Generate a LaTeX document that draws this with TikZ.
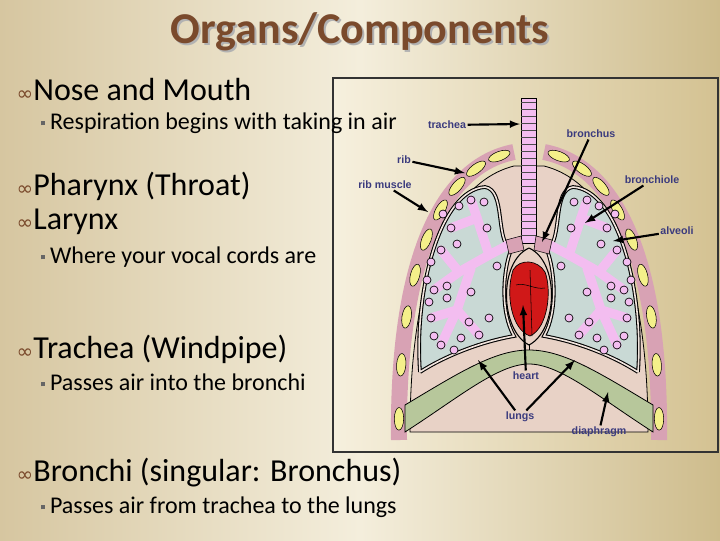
\documentclass[tikz,border=0pt]{standalone}
\usepackage{fontspec}
\setmainfont{Carlito}
\newfontfamily\labelfont{Liberation Sans}
\newfontfamily\symfont{DejaVu Sans}
\usetikzlibrary{positioning}
\definecolor{titlebrown}{HTML}{7A4A2C}
\definecolor{labelblue}{HTML}{3B3B7E}
\definecolor{ribpink}{HTML}{D8A2B4}
\definecolor{bonecol}{HTML}{F4F08A}
\definecolor{cavity}{HTML}{E8D2C6}
\definecolor{lunggray}{HTML}{C9D9D5}
\definecolor{treepink}{HTML}{F3BDF0}
\definecolor{heartred}{HTML}{D01818}
\definecolor{diagreen}{HTML}{B7C79B}
\tikzset{
  head/.style={anchor=west, font=\fontsize{24}{28}\selectfont},
  sub/.style={anchor=west, font=\fontsize{18}{21}\selectfont},
  lbl/.style={font=\labelfont\bfseries\fontsize{8}{9}\selectfont, text=labelblue, inner sep=1pt},
  pointer/.style={line width=1.6pt, -latex},
  ribbone/.style={draw=black, line width=0.4pt, fill=bonecol, ellipse, minimum width=17pt, minimum height=7pt, inner sep=0pt},
  branch/.style={treepink, line width=7pt, line cap=round},
  sac/.style={draw=black, line width=0.5pt, fill=treepink, circle, minimum size=6pt, inner sep=0pt}
}
\usetikzlibrary{shapes.geometric}
\newcommand{\headbullet}{{\symfont\color{titlebrown}\fontsize{15}{15}\selectfont ∞}}
\newcommand{\subbullet}{{\color{gray!80!black}\rule[3pt]{3pt}{3pt}}\hspace{4pt}}
\begin{document}
\begin{tikzpicture}[x=0.75pt, y=-0.75pt]
  % background
  \shade[left color={rgb,255:red,214;green,198;blue,160}, right color={rgb,255:red,206;green,188;blue,140}, middle color={rgb,255:red,244;green,238;blue,220}] (0,0) rectangle (720,540);
  \useasboundingbox (0,0) rectangle (720,540);

  % picture box
  \shade[left color={rgb,255:red,246;green,240;blue,222}, right color={rgb,255:red,212;green,194;blue,146}] (333,78) rectangle (718,452);
  \draw[line width=1.2pt, black!80] (333,78) rectangle (718,452);

  % rib band
  \draw[ribpink, line width=12pt] (399,440) .. controls (397,260) and (442,166) .. (514,152);
  \draw[ribpink, line width=12pt] (659,440) .. controls (661,260) and (616,166) .. (544,152);
  \path (399,440) .. controls (397,260) and (442,166) .. (514,152)
    foreach \p in {0.04,0.15,0.26,0.37,0.48,0.59,0.70,0.81,0.93} {node[ribbone, pos=\p, sloped]{}};
  \path (659,440) .. controls (661,260) and (616,166) .. (544,152)
    foreach \p in {0.04,0.15,0.26,0.37,0.48,0.59,0.70,0.81,0.93} {node[ribbone, pos=\p, sloped]{}};

  % chest cavity
  \filldraw[fill=cavity, draw=black, line width=0.6pt] (410,432) .. controls (410,272) and (450,182) .. (514,166) -- (544,166) .. controls (608,182) and (648,272) .. (648,432) -- cycle;

  % lungs
  \filldraw[fill=lunggray, draw=black, line width=0.8pt, double=cavity!60, double distance=1.2pt]
    (420,372) .. controls (414,290) and (440,190) .. (485,187) .. controls (506,190) and (495,240) .. (511,250)
    .. controls (503,270) and (500,312) .. (514,336) .. controls (480,342) and (445,356) .. (420,372);
  \filldraw[fill=lunggray, draw=black, line width=0.8pt, double=cavity!60, double distance=1.2pt]
    (638,372) .. controls (644,290) and (618,190) .. (573,187) .. controls (552,190) and (563,240) .. (547,250)
    .. controls (555,270) and (558,312) .. (544,336) .. controls (578,342) and (613,356) .. (638,372);

  % bronchial trees
  \foreach \s in {1,-1} {
    \begin{scope}[shift={(529,0)}, xscale=\s]
      \draw[branch] (-15,242) -- (-40,255) -- (-70,272) -- (-95,290);
      \draw[branch] (-40,255) -- (-52,218) -- (-58,200);
      \draw[branch] (-52,218) -- (-78,228);
      \draw[branch] (-70,272) -- (-88,250);
      \draw[branch] (-58,268) -- (-72,310) -- (-88,345);
      \draw[branch] (-72,310) -- (-50,335);
      \draw[branch] (-72,310) -- (-98,318);
      \foreach \a/\b in {-58/200,-78/228,-88/250,-95/290,-88/345,-50/335,-98/318,
        -70/206,-45/202,-86/214,-98/262,-102/280,-82/286,-58/292,-100/302,-60/322,
        -95/336,-75/350,-40/318,-72/244,-42/228,-68/338,-82/298,-32/266}
        \node[sac] at (\a,\b) {};
    \end{scope}
  }

  % trachea
  \filldraw[fill=treepink, draw=black, line width=0.5pt] (521,98) rectangle (536,243);
  \foreach \y in {102,109,...,240} \draw[black!70, line width=0.4pt] (521,\y) -- (536,\y);
  \filldraw[fill=ribpink, draw=black, line width=0.4pt] (506,240) -- (521,236) -- (524,250) -- (509,254) -- cycle;
  \filldraw[fill=ribpink, draw=black, line width=0.4pt] (552,240) -- (536,236) -- (534,250) -- (549,254) -- cycle;

  % heart
  \filldraw[fill=cavity, draw=black, line width=0.8pt] (529,248) .. controls (498,262) and (500,330) .. (529,345) .. controls (558,330) and (560,262) .. (529,248);
  \filldraw[fill=heartred, draw=black, line width=0.5pt] (513,270) .. controls (505,295) and (512,330) .. (530,336) .. controls (548,328) and (552,290) .. (545,272) .. controls (538,260) and (520,258) .. (513,270);
  \draw[black, line width=0.4pt] (530,270) -- (532,336) (516,285) .. controls (525,282) and (535,290) .. (545,288);

  % diaphragm
  \filldraw[fill=diagreen, draw=black, line width=0.6pt]
    (405,405) .. controls (460,372) and (495,350) .. (529,350) .. controls (563,350) and (598,372) .. (653,405)
    -- (653,432) .. controls (600,398) and (560,364) .. (529,364) .. controls (498,364) and (458,398) .. (405,432) -- cycle;
  \draw[black, line width=0.6pt] (529,345) -- (529,350);

  % labels
  \node[lbl] (trachea) at (447,125) {trachea};
  \node[lbl] (bronchus) at (591,134) {bronchus};
  \node[lbl] (rib) at (404,160) {rib};
  \node[lbl] (ribmuscle) at (385,185) {rib muscle};
  \node[lbl] (bronchiole) at (652,180) {bronchiole};
  \node[lbl] (alveoli) at (677,231) {alveoli};
  \node[lbl] (heart) at (526,376) {heart};
  \node[lbl] (lungs) at (520,417) {lungs};
  \node[lbl] (diaphragm) at (599,432) {diaphragm};

  % arrow tips
  \coordinate (tracheaTip) at (520,124);
  \coordinate (bronchusTip) at (542,242);
  \coordinate (ribTip) at (465,173);
  \coordinate (ribmuscleTip) at (428,212);
  \coordinate (bronchioleTip) at (585,223);
  \coordinate (alveoliTip) at (613,241);
  \coordinate (heartTip) at (523,305);
  \coordinate (lungLeftTip) at (478,360);
  \coordinate (lungRightTip) at (575,360);
  \coordinate (diaphragmTip) at (608,392);

  \draw[pointer] (trachea) -- (tracheaTip);
  \draw[pointer] (bronchus) -- (bronchusTip);
  \draw[pointer] (rib) -- (ribTip);
  \draw[pointer] (ribmuscle) -- (ribmuscleTip);
  \draw[pointer] (bronchiole) -- (bronchioleTip);
  \draw[pointer] (alveoli) -- (alveoliTip);
  \draw[pointer] (heart) -- (heartTip);
  \draw[pointer] (lungs) -- (lungLeftTip);
  \draw[pointer] (lungs) -- (lungRightTip);
  \draw[pointer] (diaphragm) -- (diaphragmTip);

  % title
  \node[text=black!30, font=\bfseries\fontsize{33}{38}\selectfont] at (362,34) {Organs/Components};
  \node (title) [text=titlebrown, font=\bfseries\fontsize{33}{38}\selectfont] at (360,32) {Organs/Components};

  % bullet text
  \node[head] (nose) at (12,90) {\headbullet Nose and Mouth};
  \node[sub] (resp) at (36,123) {\subbullet Respiration begins with taking in air};
  \node[head] (pharynx) at (12,186) {\headbullet Pharynx (Throat)};
  \node[head] (larynx) at (12,222) {\headbullet Larynx};
  \node[sub] (vocal) at (36,257) {\subbullet Where your vocal cords are};
  \node[head] (tracheatext) at (12,349) {\headbullet Trachea (Windpipe)};
  \node[sub] (intobronchi) at (36,382) {\subbullet Passes air into the bronchi};
  \node[head] (bronchitext) at (12,473) {\headbullet Bronchi (singular: Bronchus)};
  \node[sub] (tolungs) at (36,507) {\subbullet Passes air from trachea to the lungs};
\end{tikzpicture}
\end{document}
